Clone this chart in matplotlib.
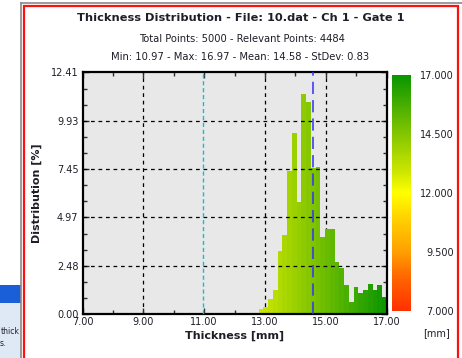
import numpy as np
import matplotlib
matplotlib.use("Agg")
import matplotlib.pyplot as plt
from matplotlib.colors import LinearSegmentedColormap, Normalize
from matplotlib.patches import Rectangle
import matplotlib.colorbar as mcolorbar

# data
bin_start = 12.79
bin_width = 0.1565
pct = [0.24, 0.38, 0.79, 1.23, 3.24, 4.06, 7.34, 9.28, 5.77, 11.30, 10.90,
       7.48, 7.57, 3.97, 4.37, 4.37, 2.69, 2.35, 1.47, 0.63, 1.37, 1.06,
       1.23, 1.54, 1.23, 1.49, 0.89]
y_ticks = [0.00, 2.48, 4.97, 7.45, 9.93, 12.41]
x_ticks = [7, 9, 11, 13, 15, 17]
cbar_ticks = [7.0, 9.5, 12.0, 14.5, 17.0]
mean_val = 14.58
min_val = 10.97

W, H = 462, 358
TXT = '#1e1e28'


def fx(px):
    return px / W


def fy(py):
    return 1 - py / H


cmap = LinearSegmentedColormap.from_list('thk', [
    (0.00, '#ff3000'),
    (0.15, '#ff6a00'),
    (0.25, '#ffa000'),
    (0.40, '#ffd400'),
    (0.50, '#ffff00'),
    (0.60, '#c8e400'),
    (0.75, '#84c600'),
    (1.00, '#0a9600'),
])
norm = Normalize(7, 17)

fig = plt.figure(figsize=(W / 100, H / 100), dpi=100)
fig.patch.set_facecolor('white')

# window frame bits of the screenshot
fig.add_artist(Rectangle((0, fy(303)), fx(21), (303 - 285) / H, transform=fig.transFigure,
                         facecolor='#1a5fd8', edgecolor='none'))
fig.add_artist(Rectangle((0, 0), fx(21), (H - 303) / H, transform=fig.transFigure,
                         facecolor='#dfe8f5', edgecolor='none'))
fig.text(fx(20), fy(332), 'thick', ha='right', va='center', fontsize=5.5, color=TXT)
fig.text(fx(0), fy(343), 's.', ha='left', va='center', fontsize=5.5, color=TXT)
fig.add_artist(plt.Line2D([fx(21), fx(21)], [0, fy(3)], transform=fig.transFigure,
                          color='#8a8a8a', lw=1.2))
fig.add_artist(plt.Line2D([fx(21), 1], [fy(3), fy(3)], transform=fig.transFigure,
                          color='#8a8a8a', lw=1.2))
fig.add_artist(Rectangle((fx(24), -0.05), fx(458) - fx(24), fy(6) + 0.05,
                         transform=fig.transFigure, facecolor='none',
                         edgecolor='#ff1010', lw=1.6))

ax = fig.add_axes([fx(82.6), fy(314), fx(386.5) - fx(82.6), (314 - 72.4) / H])
ax.set_facecolor('#e8e8e8')

lefts = bin_start + bin_width * np.arange(len(pct))
ax.bar(lefts, pct, width=bin_width, align='edge',
       color=cmap(norm(lefts + bin_width / 2)), edgecolor='none', zorder=2)

ax.set_xlim(7, 17)
ax.set_ylim(0, y_ticks[-1])
ax.set_xticks(x_ticks)
ax.set_xticklabels(['%.2f' % v for v in x_ticks])
ax.set_xticks(np.arange(8, 17, 2), minor=True)
ax.set_yticks(y_ticks)
ax.set_yticklabels(['%.2f' % v for v in y_ticks])
ystep = y_ticks[1] / 3
ax.set_yticks([v for v in np.arange(0, y_ticks[-1], ystep) if min(abs(v - t) for t in y_ticks) > 0.1],
              minor=True)
ax.tick_params(which='both', direction='in', top=True, right=True, colors='#303030',
               labelcolor=TXT, labelsize=7)
ax.tick_params(which='major', length=4, width=1)
ax.tick_params(which='minor', length=3, width=1)
ax.tick_params(axis='x', pad=2)
ax.tick_params(axis='y', pad=3)

for v in [9, 13, 15]:
    ax.axvline(v, color='black', lw=0.9, ls=(0, (3, 3)), zorder=1)
for v in y_ticks[1:-1]:
    ax.axhline(v, color='black', lw=0.9, ls=(0, (3, 3)), zorder=3)
ax.axvline(min_val, color='#00c8d0', lw=1.0, ls=(0, (3, 2)), zorder=3)
ax.axvline(mean_val, color='#3030ff', lw=1.1, ls=(0, (8, 4)), zorder=3)

for s in ax.spines.values():
    s.set_linewidth(1.6)
    s.set_color('black')

ax.set_xlabel('Thickness [mm]', fontsize=8, fontweight='bold', color=TXT, labelpad=3)
ax.set_ylabel('Distribution [%]', fontsize=8, fontweight='bold', color=TXT, labelpad=6)

fig.text(fx(241), fy(18), 'Thickness Distribution - File: 10.dat - Ch 1 - Gate 1',
         ha='center', va='center', fontsize=8.2, fontweight='bold', color=TXT)
fig.text(fx(242), fy(39), 'Total Points: 5000 - Relevant Points: 4484',
         ha='center', va='center', fontsize=7.2, color=TXT)
fig.text(fx(240), fy(57), 'Min: 10.97 - Max: 16.97 - Mean: 14.58 - StDev: 0.83',
         ha='center', va='center', fontsize=7.2, color=TXT)

cax = fig.add_axes([fx(392), fy(310.7), fx(411) - fx(392), (310.7 - 75.3) / H])
cb = mcolorbar.ColorbarBase(cax, cmap=cmap, norm=norm, ticks=cbar_ticks)
cb.outline.set_visible(False)
cb.ax.set_yticklabels(['%.3f' % v for v in cbar_ticks])
cb.ax.tick_params(length=0, labelsize=7, labelcolor=TXT, pad=31)
for lab in cb.ax.get_yticklabels():
    lab.set_horizontalalignment('right')
fig.text(fx(437), fy(333), '[mm]', ha='center', va='center', fontsize=7, color=TXT)

fig.savefig('out.png', dpi=100)
